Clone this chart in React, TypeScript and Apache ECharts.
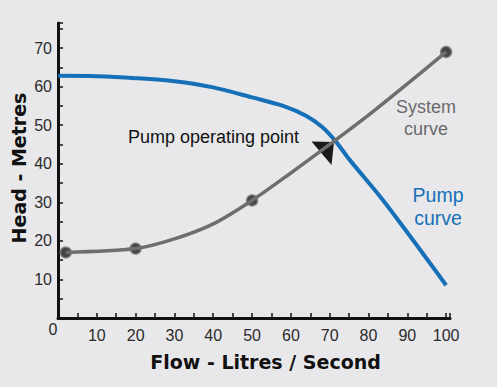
import React, { useEffect, useRef } from "react";
import * as echarts from "echarts";

// Pump curve (flow L/s, head m)
const pumpFlow = [0, 10, 20, 30, 40, 50, 58, 64, 68, 71.4, 75, 84, 100];
const pumpHead = [62.8, 62.7, 62.2, 61.4, 59.8, 57.2, 55, 52.4, 49.6, 46, 41.2, 30.2, 8.5];

// System curve
const sysFlow = [2, 20, 30, 40, 50, 60, 70, 80, 90, 100];
const sysHead = [17, 18, 20.5, 24.4, 30.5, 37.6, 45, 52.6, 60.7, 69];

// Marked points on the system curve
const dotFlow = [2, 20, 50, 100];
const dotHead = [17, 18, 30.5, 69];

const xLabels = [10, 20, 30, 40, 50, 60, 70, 80, 90, 100];
const yLabels = [10, 20, 30, 40, 50, 60, 70];

export default function App() {
  const ref = useRef<HTMLDivElement>(null);
  useEffect(() => {
    if (!ref.current) return;
    const chart = echarts.init(ref.current, null, { renderer: "svg" });
    const zip = (a: number[], b: number[]) => a.map((v, i) => [v, b[i]]);
    const labelFont = { fontFamily: "Liberation Sans", fontSize: 16, color: "#2b2b2b" };
    chart.setOption({
      animation: false,
      backgroundColor: "#e8e8ea",
      grid: { left: 58, right: 47, top: 23, bottom: 69, containLabel: false, outerBoundsMode: "none" },
      xAxis: {
        type: "value",
        min: 0,
        max: 101,
        interval: 5,
        name: "Flow - Litres / Second",
        nameLocation: "middle",
        nameGap: 34,
        nameTextStyle: {
          fontFamily: "DejaVu Sans",
          fontWeight: "bold",
          fontSize: 19,
          color: "#111",
          padding: [0, 0, 0, 23],
        },
        axisLine: { show: true, onZero: false, lineStyle: { color: "#111", width: 3 } },
        axisTick: { show: true, inside: true, length: 5, lineStyle: { color: "#111", width: 1.5 } },
        axisLabel: {
          ...labelFont,
          margin: 9,
          formatter: (v: number) => (xLabels.includes(v) ? String(v) : ""),
        },
        splitLine: { show: false },
      },
      yAxis: {
        type: "value",
        min: 0,
        max: 76.5,
        interval: 5,
        axisLine: { show: true, onZero: false, lineStyle: { color: "#111", width: 3 } },
        axisTick: { show: true, inside: true, length: 5, lineStyle: { color: "#111", width: 1.5 } },
        axisLabel: {
          ...labelFont,
          margin: 6,
          formatter: (v: number) => (yLabels.includes(v) ? String(v) : ""),
        },
        splitLine: { show: false },
      },
      series: [
        {
          type: "line",
          name: "Pump curve",
          data: zip(pumpFlow, pumpHead),
          smooth: 0.3,
          showSymbol: false,
          lineStyle: { color: "#1670b8", width: 4 },
          markLine: {
            silent: true,
            symbol: ["none", "none"],
            label: { show: false },
            lineStyle: { color: "#111", width: 3, type: "solid" },
            emphasis: { disabled: true },
            data: [{ yAxis: 0 }],
          },
        },
        {
          type: "line",
          name: "System curve",
          data: zip(sysFlow, sysHead),
          smooth: 0.3,
          showSymbol: false,
          lineStyle: { color: "#6e6e6e", width: 3.5 },
        },
        {
          type: "scatter",
          name: "System points",
          data: zip(dotFlow, dotHead),
          symbolSize: 11,
          itemStyle: { color: "#1c1c1c", borderColor: "#808080", borderWidth: 1.5 },
        },
      ],
      graphic: [
        {
          type: "text",
          x: 19,
          y: 168,
          rotation: Math.PI / 2,
          style: {
            text: "Head - Metres",
            fontFamily: "DejaVu Sans",
            fontWeight: "bold",
            fontSize: 19,
            fill: "#111",
            align: "center",
            verticalAlign: "middle",
          },
        },
        {
          type: "text",
          x: 53,
          y: 329,
          style: {
            text: "0",
            fontFamily: "Liberation Sans",
            fontSize: 16,
            fill: "#2b2b2b",
            align: "center",
            verticalAlign: "middle",
          },
        },
        {
          type: "text",
          x: 128,
          y: 137,
          style: {
            text: "Pump operating point",
            fontFamily: "Liberation Sans",
            fontSize: 18,
            fill: "#111",
            verticalAlign: "middle",
          },
        },
        {
          type: "polygon",
          shape: { points: [[311.5, 141.5], [334, 142], [331.5, 165]] },
          style: { fill: "#1a1a1a" },
        },
        {
          type: "text",
          x: 426,
          y: 118,
          style: {
            text: "System\ncurve",
            fontFamily: "Liberation Sans",
            fontSize: 18,
            lineHeight: 22,
            fill: "#6a6a6a",
            align: "center",
            verticalAlign: "middle",
          },
        },
        {
          type: "text",
          x: 438,
          y: 206,
          style: {
            text: "Pump\ncurve",
            fontFamily: "Liberation Sans",
            fontSize: 19.5,
            lineHeight: 23,
            fill: "#1670b8",
            align: "center",
            verticalAlign: "middle",
          },
        },
      ],
    });
    return () => chart.dispose();
  }, []);
  return (
    <div
      ref={ref}
      style={{ position: "fixed", left: 0, top: 0, width: 497, height: 387 }}
    />
  );
}
